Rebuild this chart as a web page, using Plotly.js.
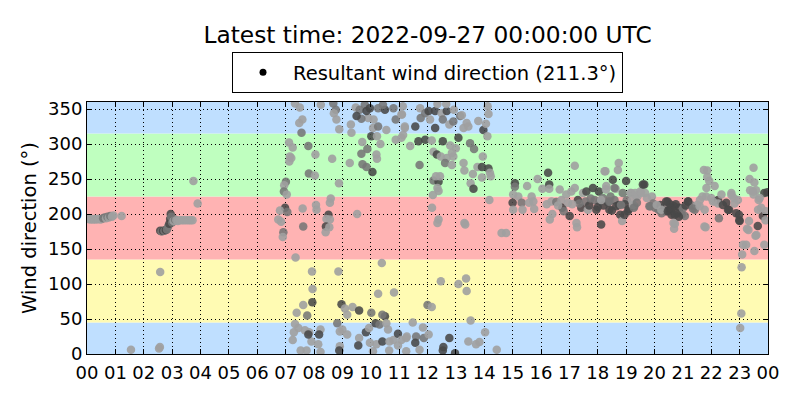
<!DOCTYPE html>
<html>
<head>
<meta charset="utf-8">
<script src="https://cdn.plot.ly/plotly-3.0.1.min.js"></script>
<style>html,body{margin:0;padding:0;background:#fff;}#chart{width:800px;height:400px;}</style>
</head>
<body>
<div id="chart"></div>
<script>
// Shade codes: 1 = dark, 2 = medium, 3 = light grey marker
// Night / early morning
const nightHours = [0.03,0.08,0.12,0.17,0.22,0.27,0.32,0.37,0.42,0.47,0.52,0.57,0.62,0.67,0.72,0.77,0.82,0.88,0.93,1.22,
  2.58,2.63,2.68,2.73,2.78,2.82,2.86,2.9,2.93,2.95,2.97,3.0,3.05,3.1,3.15,3.2,3.27,3.35,3.42,3.5,3.58,3.65,3.72,3.75,3.9,2.58,1.55,2.54,2.57];
const nightDirs = [193,193,192,193,192,193,192,193,193,192,193,194,195,194,196,195,197,196,198,197,
  176,175,176,176,177,178,182,186,193,200,196,188,190,192,191,190,191,191,191,191,191,191,191,247,215,117,6,8,10];
const nightShades = [3,3,3,3,3,3,3,3,3,3,3,2,2,3,2,3,2,3,3,3,
  1,2,1,2,1,2,2,1,1,1,2,2,3,2,3,3,3,3,3,3,3,3,3,3,3,3,3,3,3];

// Morning (07-11)
const morningHours = [7.33,7.5,7.59,7.48,7.56,8.24,8.68,8.77,8.7,8.79,8.89,9.3,9.32,9.47,9.61,9.79,9.97,9.91,9.67,10.1,
  10.26,10.5,10.43,10.08,10.26,10.55,10.8,10.88,11.08,11.2,10.02,10.22,9.5,9.85,
  7.12,7.25,7.15,7.13,7.2,7.8,8.05,7.82,8.03,8.64,9.26,8.88,9.7,9.88,9.67,10.2,10.22,9.71,9.85,10.06,
  10.34,10.88,11.08,7.01,6.95,6.94,7.04,
  6.98,6.8,7.06,6.74,6.84,6.92,6.9,7.6,7.62,8.07,8.09,8.59,8.56,8.51,8.56,8.44,8.42,8.54,8.41,9.52,7.35,
  7.93,8.86,10.39,7.95,7.94,7.62,7.39,7.76,8.97,9.09,9.17,9.36,9.59,10.02,10.26,10.82,10.5,10.41,
  7.33,7.45,7.29,7.68,7.83,7.91,7.8,7.25,7.53,7.74,8.23,8.18,8.15,8.23,8.82,8.91,9.0,9.17,8.91,8.89,
  9.59,9.56,9.83,9.94,10.17,10.31,10.55,10.61,9.97,10.2,10.41,10.66,10.8,10.96,11.08,10.96,10.65,10.08,11.25];
const morningDirs = [358,352,335,330,316,356,358,349,344,335,321,328,316,352,349,356,351,337,336,335,
  351,349,356,323,325,320,351,335,342,325,311,311,340,347,
  302,295,282,275,280,297,285,258,255,279,273,244,303,293,286,285,279,271,267,260,
  300,306,309,246,241,232,228,
  209,205,203,192,189,174,167,208,182,213,206,222,216,199,192,193,182,181,174,200,138,
  118,118,130,93,74,70,59,55,71,65,56,67,62,59,86,88,54,56,
  43,37,31,34,31,18,28,20,5,5,35,28,14,3,44,32,35,28,11,5,
  23,12,31,37,44,42,44,35,16,14,18,18,20,29,20,12,5,4,23];
const morningShades = [3,3,3,3,2,3,2,2,3,3,3,3,3,3,2,2,1,3,2,3,
  2,1,2,3,2,3,2,2,3,3,1,3,1,1,
  3,3,3,3,3,2,3,2,3,3,3,3,3,2,2,3,3,2,2,1,
  3,3,3,2,3,2,3,
  1,3,2,3,3,2,3,3,2,3,3,3,3,1,3,3,1,3,3,3,3,
  3,3,3,3,1,3,3,2,1,3,3,3,1,2,3,3,1,2,
  3,3,3,3,3,3,1,3,3,3,3,1,3,3,2,3,3,3,3,1,
  3,1,1,3,1,2,3,3,3,3,1,3,3,1,3,3,3,3,3];

// Midday (11-15)
const noonHours = [11.13,11.1,11.2,11.14,11.57,11.74,11.76,11.92,12.04,12.09,12.27,12.27,12.5,12.54,12.68,12.77,12.91,12.93,13.15,13.21,
  13.27,13.38,13.44,13.79,13.97,14.06,14.12,14.15,14.11,12.66,12.35,
  11.39,11.68,11.92,12.15,12.54,12.8,13.0,13.09,13.5,13.64,12.21,12.33,12.47,12.68,12.86,12.91,12.62,12.86,11.72,13.27,
  13.3,13.6,13.76,13.92,13.95,14.15,14.2,14.23,13.92,13.52,13.62,12.21,12.39,12.3,12.44,12.35,12.39,
  12.19,14.18,12.16,12.39,12.35,13.3,13.33,14.61,14.77,
  12.47,13.36,13.09,13.38,12.0,12.15,13.52,14.03,11.48,11.27,11.6,11.57,11.84,11.87,12.04,11.72,11.25,12.54,12.56,12.77,
  12.97,13.44,13.71,13.83,14.44];
const noonDirs = [354,342,323,313,325,351,337,344,347,335,347,323,344,335,347,328,332,349,340,341,
  323,330,325,333,320,329,354,343,311,357,357,
  297,304,306,305,304,298,294,309,301,293,289,285,282,280,287,282,273,270,270,273,
  262,257,267,267,282,265,259,254,252,244,236,248,246,254,254,237,233,
  227,220,209,192,187,187,185,173,173,
  104,108,100,90,70,67,48,31,45,25,25,16,38,23,28,6,4,5,10,23,
  1,18,14,17,6];
const noonShades = [3,3,3,3,1,3,2,2,1,3,1,1,3,2,1,3,2,3,2,3,
  3,3,3,3,1,3,3,3,3,3,3,
  3,1,1,3,1,3,3,1,2,2,3,1,3,3,3,3,2,3,2,3,
  3,3,3,1,3,1,3,3,3,3,1,2,1,3,3,3,3,
  3,3,3,3,3,3,3,3,3,
  3,3,3,3,2,3,3,3,3,3,2,1,3,2,3,3,3,1,1,1,
  1,3,3,3,3];

// Afternoon (15-19.5)
const afternoonHours = [15.08,15.08,15.02,15.0,15.02,15.2,15.32,15.35,15.51,15.67,
  15.73,15.58,15.76,15.88,16.05,16.25,16.29,16.29,16.37,16.31,
  16.4,16.54,16.66,16.72,16.75,16.8,16.89,16.95,17.01,17.07,
  17.19,17.19,17.25,17.27,17.3,17.42,17.48,17.57,17.6,17.65,
  17.83,17.89,17.95,18.04,18.06,18.12,18.18,18.27,18.3,18.36,
  18.41,18.53,18.59,18.63,18.71,18.74,18.74,18.79,18.86,18.88,
  19.0,19.02,19.06,19.18,19.29,19.35,
  17.7,17.75,18.0,18.2,18.45,18.5,17.35,17.1,16.6,16.2,18.95,19.1,
  18.24,18.29,18.59,18.12,18.41,18.65,18.82,18.94,19.24];
const afternoonDirs = [244,239,228,216,206,225,216,206,240,225,
  218,216,207,250,236,259,242,236,218,192,
  200,217,235,220,209,204,228,216,197,232,
  269,237,187,181,220,209,230,218,232,206,
  237,220,206,232,218,185,223,261,240,216,
  206,249,220,236,263,273,213,199,190,230,
  247,220,204,230,211,226,
  212,222,210,212,225,205,215,214,212,214,214,207,
  261,235,237,220,218,211,213,199,213];
const afternoonShades = [1,2,3,1,3,3,2,3,3,3,
  3,3,3,3,3,1,1,3,3,3,
  3,2,3,3,1,2,3,3,1,3,
  3,3,3,3,1,1,3,2,1,3,
  1,2,1,1,2,1,2,3,3,2,
  1,1,2,3,3,3,1,1,3,2,
  1,2,1,3,2,3,
  1,2,1,1,2,1,2,3,3,3,1,1,
  3,3,2,3,2,1,2,1,3];

// Evening (19-24)
const eveningHours = [19.15,19.21,19.27,19.32,19.4,19.38,19.5,19.64,19.67,19.73,
  19.85,19.91,20.02,20.14,20.31,20.46,20.53,20.6,20.69,20.72,
  20.69,20.88,20.96,21.07,21.19,21.31,21.42,21.6,21.69,21.74,
  21.86,21.86,21.93,22.12,21.83,21.77,21.8,22.0,22.12,22.24,
  22.27,22.36,22.53,22.63,22.71,22.79,22.94,22.98,23.0,23.12,
  23.23,23.09,23.07,23.06,23.02,23.33,23.26,23.49,23.35,23.52,
  23.37,23.58,23.49,23.67,23.76,23.82,23.64,23.56,23.52,23.87,
  23.87,23.93,23.91,23.98,
  20.2,20.4,20.55,20.8,21.0,21.1,21.5,20.25,20.75,19.95,
  19.59,19.53,19.82,20.08,20.24,20.41,20.47,20.59,20.71,20.86,
  20.67,21.18,21.35,21.59,21.82,22.06,22.24,22.41,22.59,22.71,
  22.82,22.88,21.76,22.99,23.31,23.47,23.71,23.65,23.59];
const eveningDirs = [230,220,209,230,225,216,232,242,230,223,
  211,225,209,206,209,218,206,199,211,186,
  179,209,199,197,218,212,206,220,225,263,
  262,253,247,240,237,206,181,223,218,220,
  194,228,216,206,230,223,220,199,190,156,
  156,142,124,58,37,190,179,266,250,245,
  234,234,228,220,209,197,183,169,147,156,
  230,204,191,231,
  213,204,214,201,208,212,213,201,214,215,
  242,230,211,213,206,218,204,208,199,196,
  187,218,208,211,225,218,215,213,206,227,
  215,201,182,191,177,232,223,206,170];
const eveningShades = [3,3,2,3,3,2,3,1,3,3,
  2,3,2,2,2,1,1,1,1,3,
  3,1,2,2,1,2,2,3,3,3,
  3,3,3,3,3,3,3,3,3,1,
  2,3,1,1,3,3,3,1,1,3,
  3,3,3,3,3,3,3,3,3,3,
  3,3,3,3,3,1,1,3,3,3,
  1,3,3,1,
  1,1,1,1,2,1,3,2,1,2,
  1,3,2,3,3,1,1,1,1,1,
  3,1,2,3,3,3,3,1,1,3,
  3,1,3,1,3,3,3,3,3];

const dayStart = '2022-09-26 00:00:00';
const dayEnd = '2022-09-27 00:00:00';
const hourTicks = ['00','01','02','03','04','05','06','07','08','09','10','11','12','13','14','15','16','17','18','19','20','21','22','23','00'];
const sectorEdges = [0, 45, 135, 225, 315, 360];
const titleText = 'Latest time: 2022-09-27 00:00:00 UTC';
const seriesName = 'Resultant wind direction (211.3°)';

const allHours = [].concat(nightHours, morningHours, noonHours, afternoonHours, eveningHours);
const allDirs = [].concat(nightDirs, morningDirs, noonDirs, afternoonDirs, eveningDirs);
const allShades = [].concat(nightShades, morningShades, noonShades, afternoonShades, eveningShades);

function toTime(h) {
  const d = new Date(Date.UTC(2022, 8, 26) + Math.round(h * 3600000));
  return d.toISOString().replace('T', ' ').slice(0, 19);
}
const shadeColor = {1: 'rgba(72,72,72,0.88)', 2: 'rgba(118,118,118,0.88)', 3: 'rgba(160,160,160,0.9)'};

const n = Math.min(allHours.length, allDirs.length);
const xs = [], ys = [], cs = [];
for (let i = 0; i < n; i++) {
  xs.push(toTime(allHours[i]));
  ys.push(allDirs[i]);
  cs.push(shadeColor[allShades[i] || 3]);
}

const bandColors = ['#bfdfff', '#fffbb3', '#ffb3b3', '#bfffbf', '#bfdfff'];
const shapes = [];
for (let i = 0; i < sectorEdges.length - 1; i++) {
  shapes.push({type: 'rect', xref: 'paper', yref: 'y', x0: 0, x1: 1, y0: sectorEdges[i], y1: sectorEdges[i + 1],
    fillcolor: bandColors[i], line: {width: 0}, layer: 'below'});
}

const tickVals = [];
for (let h = 0; h <= 24; h++) tickVals.push(toTime(h));

const data = [
  {type: 'scatter', mode: 'markers', x: xs, y: ys, showlegend: false, hoverinfo: 'x+y',
   marker: {size: 8.5, color: cs, line: {width: 0}}},
  {type: 'scatter', mode: 'markers', x: [null], y: [null], name: seriesName, showlegend: true,
   marker: {size: 7, color: '#000'}}
];

const font = 'DejaVu Sans, sans-serif';
const gridDash = '1px,3px';
const layout = {
  width: 800, height: 400,
  margin: {l: 87, r: 32, t: 102, b: 46},
  paper_bgcolor: '#fff', plot_bgcolor: '#fff',
  font: {family: font, size: 18, color: '#000'},
  title: {text: titleText, x: 0.5345, xanchor: 'center', y: 0.912, yanchor: 'middle', yref: 'container',
    font: {family: font, size: 23.3, color: '#000'}},
  showlegend: true,
  legend: {orientation: 'h', x: 0.5, xanchor: 'center', y: 1.198, yanchor: 'top',
    bordercolor: '#000', borderwidth: 1, bgcolor: '#fff', itemwidth: 50,
    font: {family: font, size: 19.5, color: '#000'}},
  xaxis: {type: 'date', range: [dayStart, dayEnd], tickmode: 'array', tickvals: tickVals, ticktext: hourTicks,
    ticks: 'inside', ticklen: 5, tickcolor: '#000', mirror: 'allticks', showline: true, linecolor: '#000', linewidth: 1,
    showgrid: true, gridcolor: '#000', griddash: gridDash, gridwidth: 1, zeroline: false,
    ticklabelstandoff: 2,
    tickfont: {family: font, size: 18, color: '#000'}},
  yaxis: {range: [0, 360], tickmode: 'linear', tick0: 0, dtick: 50,
    ticks: 'inside', ticklen: 5, tickcolor: '#000', mirror: 'allticks', showline: true, linecolor: '#000', linewidth: 1,
    showgrid: true, gridcolor: '#000', griddash: gridDash, gridwidth: 1, zeroline: false,
    title: {text: 'Wind direction (°)', font: {family: font, size: 19.5, color: '#000'}, standoff: 6},
    tickfont: {family: font, size: 18, color: '#000'}},
  shapes: shapes
};

Plotly.newPlot('chart', data, layout, {displayModeBar: false, staticPlot: true});
</script>
</body>
</html>
